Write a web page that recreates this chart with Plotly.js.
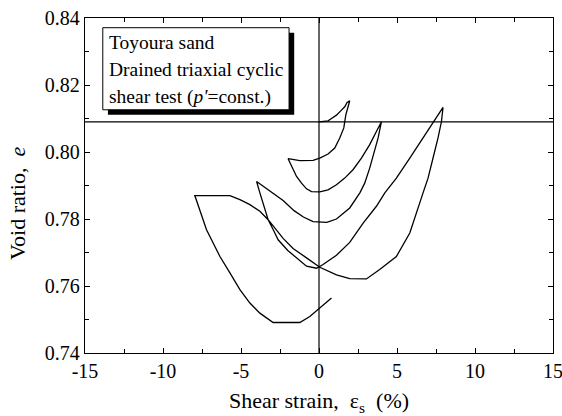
<!DOCTYPE html>
<html>
<head>
<meta charset="utf-8">
<script src="https://cdn.plot.ly/plotly-3.0.1.min.js"></script>
<style>html,body{margin:0;padding:0;background:#fff;}#chart{width:562px;height:416px;}</style>
</head>
<body>
<div id="chart"></div>
<script>
// Shear strain (%) and void ratio for each loading branch
const strain1 = [0, 0.58, 0.80, 1.12, 1.44, 1.65, 1.80, 1.97];
const ratio1  = [0.809, 0.8093, 0.8100, 0.8110, 0.8125, 0.8135, 0.8148, 0.8153];

const strain2 = [1.97, 1.72, 1.59, 1.33, 1.01, 0.58, 0.05, -0.38, -1.23, -1.98];
const ratio2  = [0.8153, 0.8111, 0.8072, 0.8042, 0.8012, 0.7994, 0.7982, 0.7975, 0.7974, 0.7980];

const strain3 = [-1.98, -1.76, -1.44, -1.12, -0.80, -0.48, 0.05, 0.58, 1.12, 1.65, 2.18, 2.72, 3.25, 3.68, 4.0];
const ratio3  = [0.7980, 0.7957, 0.7927, 0.7907, 0.7890, 0.7882, 0.7881, 0.7887, 0.7902, 0.7922, 0.7947, 0.7982, 0.8022, 0.8061, 0.8090];

const strain4 = [4.0, 3.79, 3.57, 3.25, 2.93, 2.62, 1.97, 1.12, 0.5, -0.38, -1.0, -1.6, -2.3, -2.94, -3.58, -4.0];
const ratio4  = [0.8090, 0.8042, 0.8002, 0.7952, 0.7907, 0.7878, 0.7833, 0.7800, 0.7790, 0.7792, 0.7806, 0.7825, 0.7855, 0.7877, 0.7897, 0.7912];

const strain5 = [-4.0, -3.79, -3.47, -3.26, -2.9, -2.62, -2.0, -1.44, -0.80, -0.16, 0.26, 1.12, 1.97, 2.83, 3.68, 4.22, 4.96, 5.82, 6.67, 7.31, 7.95];
const ratio5  = [0.7912, 0.7878, 0.7828, 0.7798, 0.7765, 0.7738, 0.7706, 0.7684, 0.7659, 0.7653, 0.7664, 0.7692, 0.7730, 0.7788, 0.7838, 0.7878, 0.7922, 0.7982, 0.8042, 0.8087, 0.8133];

const strain6 = [7.95, 7.85, 7.63, 7.31, 6.99, 6.67, 5.82, 4.96, 3.89, 3.04, 1.97, 1.12, 0.05, -0.80, -1.66, -2.30, -3.26, -3.79, -4.43, -5.07, -5.71, -7.96];
const ratio6  = [0.8133, 0.8091, 0.8042, 0.7982, 0.7922, 0.7878, 0.7758, 0.7688, 0.7649, 0.7621, 0.7622, 0.7633, 0.7656, 0.7684, 0.7712, 0.7742, 0.7798, 0.7823, 0.7843, 0.7858, 0.7870, 0.7870];

const strain7 = [-7.96, -7.64, -7.21, -6.89, -6.35, -5.71, -5.07, -4.43, -3.79, -2.94, -1.23, -0.59, 0.05, 0.80];
const ratio7  = [0.7870, 0.7828, 0.7768, 0.7738, 0.7688, 0.7639, 0.7589, 0.7549, 0.7519, 0.7491, 0.7491, 0.7509, 0.7534, 0.7564];

// Reference (initial state) lines
const refStrain = [0];
const refRatio = [0.809];

// Tick labels
const xTickVals = [-15, -10, -5, 0, 5, 10, 15];
const xTickText = ["-15", "-10", "-5", "0", "5", "10", "15"];
const yTickVals = [0.74, 0.76, 0.78, 0.80, 0.82, 0.84];
const yTickText = ["0.74", "0.76", "0.78", "0.80", "0.82", "0.84"];

const legendLines = ["Toyoura sand", "Drained triaxial cyclic", "shear test (<i>p'</i>=const.)"];
const xTitle = 'Shear strain,  ε<sub>s</sub>  (%)';
const yTitle = 'Void ratio,  <i>e</i>';

const strainAll = [].concat(strain1, strain2, strain3, strain4, strain5, strain6, strain7);
const ratioAll = [].concat(ratio1, ratio2, ratio3, ratio4, ratio5, ratio6, ratio7);

const font = 'Liberation Serif';

const trace = {
  x: strainAll, y: ratioAll, type: 'scatter', mode: 'lines',
  line: {color: '#000', width: 1.3}, showlegend: false, hoverinfo: 'skip'
};

const shapes = [
  {type: 'line', xref: 'x', yref: 'paper', x0: refStrain[0], x1: refStrain[0], y0: 0, y1: 1, line: {color: '#000', width: 1.2}, layer: 'below'},
  {type: 'line', xref: 'paper', yref: 'y', x0: 0, x1: 1, y0: refRatio[0], y1: refRatio[0], line: {color: '#000', width: 1.2}, layer: 'below'},
  {type: 'rect', xref: 'paper', yref: 'paper', x0: 0.049, x1: 0.447, y0: 0.711, y1: 0.956, fillcolor: '#000', line: {width: 0}},
  {type: 'rect', xref: 'paper', yref: 'paper', x0: 0.038, x1: 0.436, y0: 0.726, y1: 0.971, fillcolor: '#fff', line: {color: '#000', width: 1}}
];

const lineY = [0.926, 0.846, 0.765];
const annotations = legendLines.map((t, i) => ({
  xref: 'paper', yref: 'paper', x: 0.047, y: lineY[i], xanchor: 'left', yanchor: 'middle',
  text: t, showarrow: false, font: {family: font, size: 19.5, color: '#000'}
}));
annotations.push({
  xref: 'paper', yref: 'paper', x: -0.143, y: 0.445, xanchor: 'center', yanchor: 'middle',
  text: yTitle, textangle: -90, showarrow: false, font: {family: font, size: 22, color: '#000'}
});

const layout = {
  width: 562, height: 416,
  margin: {l: 85, r: 9, t: 18, b: 63},
  paper_bgcolor: '#fff', plot_bgcolor: '#fff',
  font: {family: font, size: 20, color: '#000'},
  xaxis: {
    range: [-15, 15], tickmode: 'array', tickvals: xTickVals, ticktext: xTickText,
    ticks: 'inside', ticklen: 5, tickwidth: 1, tickcolor: '#000',
    showline: true, linecolor: '#000', linewidth: 1.3, mirror: 'ticks',
    showgrid: false, zeroline: false, ticklabeloverflow: 'allow',
    minor: {tickmode: 'linear', tick0: -15, dtick: 2.5, ticks: 'inside', ticklen: 4, tickcolor: '#000', showgrid: false},
    tickfont: {family: font, size: 20},
    title: {text: xTitle, font: {family: font, size: 22}, standoff: 14}
  },
  yaxis: {
    range: [0.74, 0.84], tickmode: 'array', tickvals: yTickVals, ticktext: yTickText,
    ticks: 'inside', ticklen: 5, tickwidth: 1, tickcolor: '#000',
    showline: true, linecolor: '#000', linewidth: 1.3, mirror: 'ticks',
    showgrid: false, zeroline: false,
    minor: {tickmode: 'linear', tick0: 0.74, dtick: 0.01, ticks: 'inside', ticklen: 4, tickcolor: '#000', showgrid: false},
    tickfont: {family: font, size: 20}
  },
  shapes: shapes,
  annotations: annotations
};

Plotly.newPlot('chart', [trace], layout, {displayModeBar: false, staticPlot: true});
</script>
</body>
</html>
